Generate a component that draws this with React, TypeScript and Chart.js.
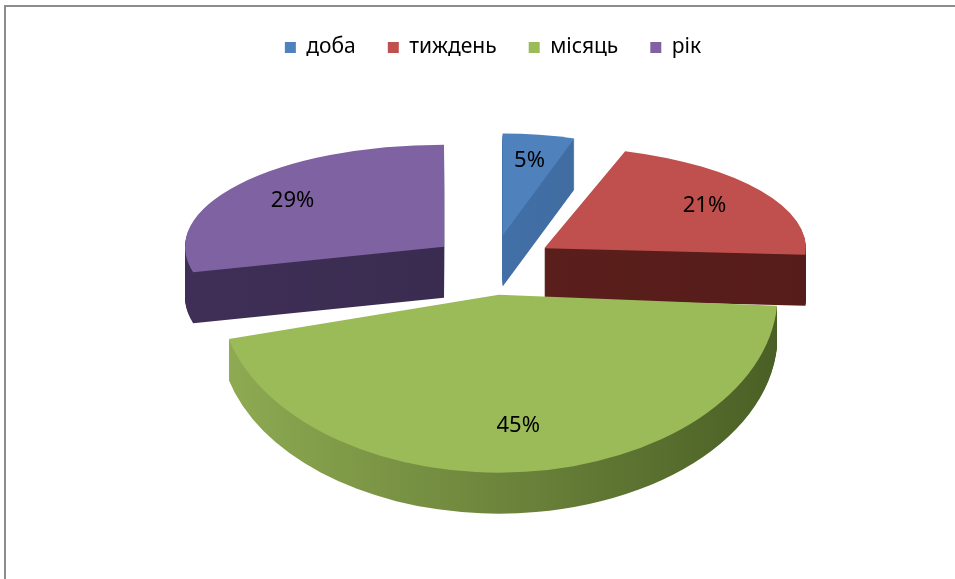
import React, { useEffect, useRef } from 'react';
import { Chart, registerables } from 'chart.js';

Chart.register(...registerables);

const categories = ['доба', 'тиждень', 'місяць', 'рік'];
const values = [5, 21, 45, 29];
const percentLabels = ['5%', '21%', '45%', '29%'];
const topColors = ['#4f81bd', '#c0504d', '#9bbb59', '#7f62a1'];
const wallLeftColors = ['#4a7ab5', '#5e221e', '#8fab52', '#3f2f57'];
const wallRightColors = ['#3a6597', '#561c19', '#4a5f25', '#35284a'];

// Approximate the perspective of a 3-D pie: each slice gets its own affine
// transform, depending on how far it points away from the viewer.
function sliceTransform(p: any, o: any) {
  const mid = (p.startAngle + p.endAngle) / 2;
  const s = Math.sin(mid);
  const back = s < 0;
  return {
    mid,
    dx: Math.cos(mid) * o.explode,
    dy: s * o.explode * o.explodeTilt,
    k: back ? o.tiltBack : o.tiltFront,
    h: back ? 1 - o.widthPersp * s * s : o.widthFront,
    depth: back ? o.depthBack : o.depthFront,
  };
}

function applyTransform(ctx: any, p: any, t: any, lift: number) {
  ctx.translate(p.x + t.dx, p.y + t.dy + lift);
  ctx.scale(t.h, t.k);
  ctx.translate(-p.x, -p.y);
}

const pie3d = {
  id: 'pie3d',
  beforeDatasetsDraw(chart: any, _args: any, opts: any) {
    const ctx = chart.ctx;
    const arcs = chart.getDatasetMeta(0).data;
    if (!arcs.length) return;
    // side walls
    arcs.forEach((arc: any, i: number) => {
      const p = arc.getProps(['x', 'y', 'startAngle', 'endAngle', 'outerRadius'], true);
      const t = sliceTransform(p, opts);
      const grad = ctx.createLinearGradient(p.x - p.outerRadius, 0, p.x + p.outerRadius, 0);
      grad.addColorStop(0, wallLeftColors[i]);
      grad.addColorStop(1, wallRightColors[i]);
      for (let d = t.depth; d >= 1; d -= 1) {
        ctx.save();
        applyTransform(ctx, p, t, d);
        ctx.beginPath();
        ctx.moveTo(p.x, p.y);
        ctx.arc(p.x, p.y, p.outerRadius, p.startAngle, p.endAngle);
        ctx.closePath();
        ctx.fillStyle = grad;
        ctx.fill();
        ctx.restore();
      }
    });
    // top faces, drawn by the arc elements themselves
    arcs.forEach((arc: any) => {
      const p = arc.getProps(['x', 'y', 'startAngle', 'endAngle'], true);
      const t = sliceTransform(p, opts);
      ctx.save();
      applyTransform(ctx, p, t, 0);
      arc.draw(ctx);
      ctx.restore();
    });
    return false;
  },
  afterDraw(chart: any, _args: any, opts: any) {
    const ctx = chart.ctx;
    const arcs = chart.getDatasetMeta(0).data;
    if (!arcs.length) return;
    ctx.save();
    ctx.font = opts.font;
    ctx.fillStyle = '#000';
    ctx.textAlign = 'center';
    ctx.textBaseline = 'middle';
    arcs.forEach((arc: any, i: number) => {
      const p = arc.getProps(['x', 'y', 'startAngle', 'endAngle', 'outerRadius'], true);
      const t = sliceTransform(p, opts);
      const r = p.outerRadius * opts.labelFrac;
      const lx = p.x + t.dx + Math.cos(t.mid) * r * t.h;
      const ly = p.y + t.dy + Math.sin(t.mid) * r * t.k;
      ctx.fillText(percentLabels[i], lx, ly);
    });
    ctx.restore();
  },
};

export default function App() {
  const ref = useRef<HTMLCanvasElement | null>(null);
  useEffect(() => {
    if (!ref.current) return;
    const chart = new Chart(ref.current, {
      type: 'pie',
      data: {
        labels: categories,
        datasets: [
          {
            data: values,
            backgroundColor: topColors,
            borderWidth: 0,
            offset: 0,
            hoverOffset: 0,
            clip: false,
          } as any,
        ],
      },
      options: {
        responsive: false,
        animation: false,
        radius: 276,
        layout: { padding: { top: 5, left: 31, right: 0, bottom: 117 } },
        plugins: {
          legend: {
            position: 'top',
            labels: {
              boxWidth: 11,
              boxHeight: 11,
              padding: 32,
              color: '#000',
              font: { family: 'Noto Sans', size: 21 },
            },
          },
          tooltip: { enabled: false },
          pie3d: {
            explode: 62,
            explodeTilt: 0.48,
            tiltBack: 0.37,
            tiltFront: 0.645,
            widthPersp: 0.164,
            widthFront: 1.01,
            depthBack: 51,
            depthFront: 41,
            labelFrac: 0.74,
            font: '22px "Noto Sans"',
          },
        } as any,
      },
      plugins: [pie3d as any],
    });
    return () => chart.destroy();
  }, []);
  return (
    <div style={{ position: 'fixed', left: 0, top: 0, width: 955, height: 579, background: '#fff', overflow: 'hidden' }}>
      <canvas ref={ref} width={955} height={579} style={{ position: 'absolute', left: 0, top: 0 }} />
      <div
        style={{
          position: 'absolute',
          left: 4,
          top: 5,
          width: 1000,
          height: 700,
          borderTop: '2px solid #8c8c8c',
          borderLeft: '2px solid #8c8c8c',
          pointerEvents: 'none',
        }}
      />
    </div>
  );
}
